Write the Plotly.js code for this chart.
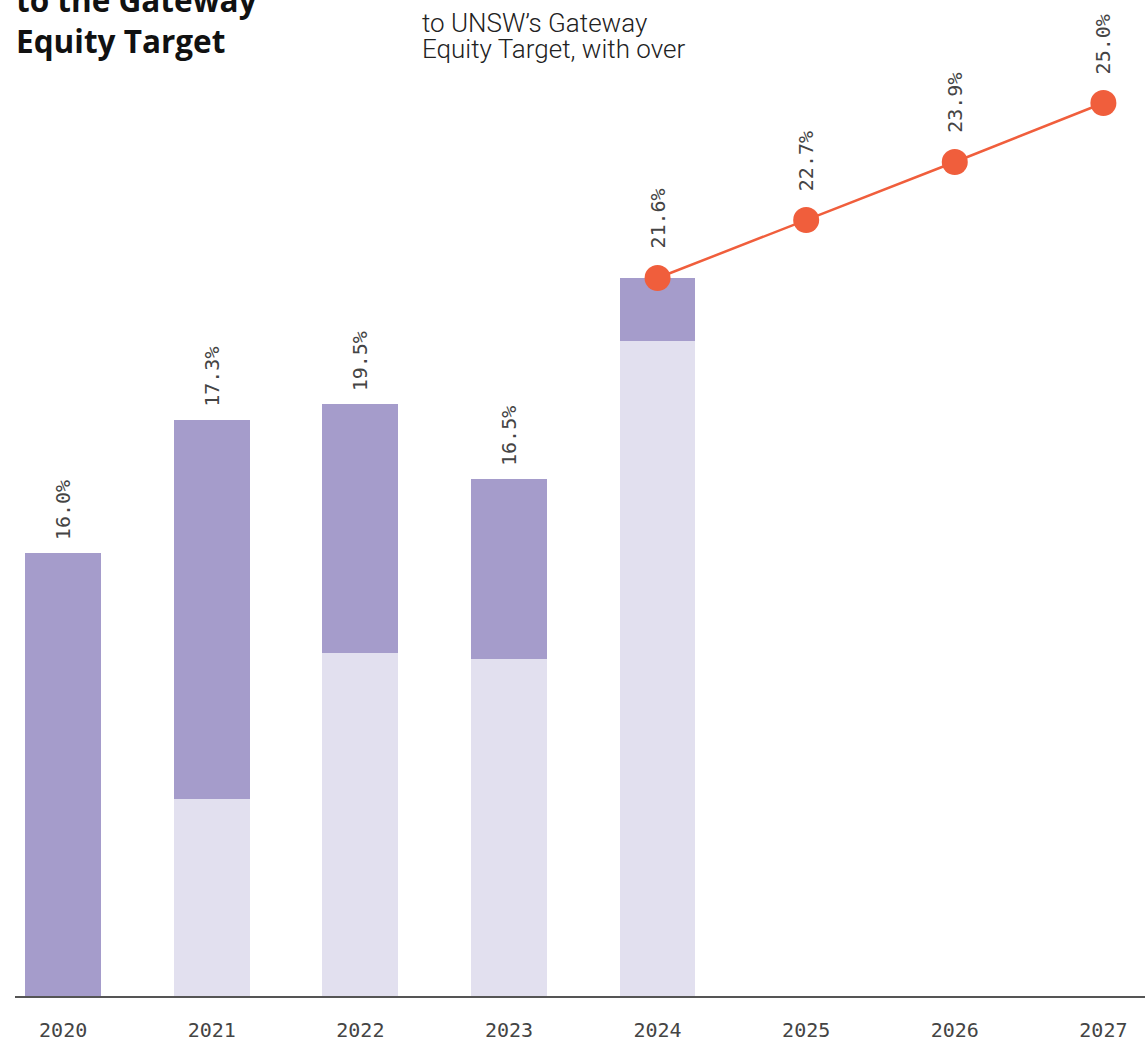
<!DOCTYPE html>
<html>
<head>
<meta charset="utf-8">
<script src="https://cdn.plot.ly/plotly-3.0.1.min.js"></script>
<style>html,body{margin:0;padding:0;background:#fff;}#chart{width:1145px;height:1042px;}</style>
</head>
<body>
<div id="chart"></div>
<script>
// Data (bar heights in chart units)
const years = ['2020','2021','2022','2023','2024','2025','2026','2027'];
const barYears = ['2020','2021','2022','2023','2024'];
const baseValues = [0, 197, 343, 337, 655];
const topValues = [443, 379, 249, 180, 63];
const barLabels = ['16.0%','17.3%','19.5%','16.5%'];
const lineYears = ['2024','2025','2026','2027'];
const lineValues = [718, 776, 834, 893];
const lineLabels = ['21.6%','22.7%','23.9%','25.0%'];
const titleLines = ['to the Gateway', 'Equity Target'];
const subtitleLines = ['to UNSW\u2019s Gateway', 'Equity Target, with over'];

const dark = '#A59CCB', light = '#E2E0EF', orange = '#F05E3C';
const monoFont = {family: 'DejaVu Sans Mono, monospace', size: 20, color: '#444444'};

const traces = [
  {type: 'bar', x: barYears, y: baseValues, marker: {color: light}, width: 0.51, hoverinfo: 'skip'},
  {type: 'bar', x: barYears, y: topValues, marker: {color: dark}, width: 0.51, hoverinfo: 'skip'},
  {type: 'scatter', mode: 'lines+markers', x: lineYears, y: lineValues,
   line: {color: orange, width: 2.5}, marker: {color: orange, size: 26}, hoverinfo: 'skip'}
];

const annotations = [];
barLabels.forEach((t, i) => {
  annotations.push({x: years.indexOf(barYears[i]), y: baseValues[i] + topValues[i], text: t, textangle: -90,
    showarrow: false, xanchor: 'center', yanchor: 'bottom', yshift: 11, font: monoFont});
});
lineLabels.forEach((t, i) => {
  annotations.push({x: years.indexOf(lineYears[i]), y: lineValues[i], text: t, textangle: -90,
    showarrow: false, xanchor: 'center', yanchor: 'bottom', yshift: 27, font: monoFont});
});
titleLines.forEach((t, i) => {
  annotations.push({xref: 'paper', yref: 'paper', x: -0.001, y: 1.0, yshift: 24 - 41 * i, xanchor: 'left', yanchor: 'top', align: 'left',
    text: '<b>' + t + '</b>', showarrow: false,
    font: {family: 'Open Sans, sans-serif', size: 31.5, color: '#111111'}});
});
subtitleLines.forEach((t, i) => {
  annotations.push({xref: 'paper', yref: 'paper', x: 0.358, y: 1.0, yshift: -6 - 26 * i, xanchor: 'left', yanchor: 'top', align: 'left',
    text: t, showarrow: false,
    font: {family: 'Roboto, sans-serif', size: 26, weight: 300, color: '#222222'}});
});

const layout = {
  width: 1145, height: 1042,
  margin: {l: 15, r: 0, t: 0, b: 46},
  paper_bgcolor: '#ffffff', plot_bgcolor: '#ffffff',
  barmode: 'stack', showlegend: false,
  xaxis: {type: 'category', categoryarray: years, categoryorder: 'array', range: [-0.324, 7.28],
    showgrid: false, zeroline: false, showline: true, linecolor: '#555555', linewidth: 1.5,
    ticks: '', ticklabelstandoff: 15,
    tickfont: {family: 'DejaVu Sans Mono, monospace', size: 20, color: '#444444'}},
  yaxis: {range: [0, 996], visible: false, showgrid: false, zeroline: false},
  annotations: annotations
};
Plotly.newPlot('chart', traces, layout, {displayModeBar: false, staticPlot: true});
</script>
</body>
</html>
